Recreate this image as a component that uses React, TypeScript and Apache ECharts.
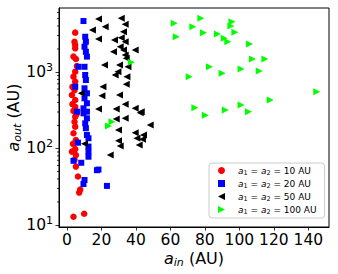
import React, { useEffect, useRef } from 'react';
import * as echarts from 'echarts';

// a1 = a2 = 10 AU  (red circles)
const RED_IN = [4.8, 4.4, 4.8, 4.8, 3.8, 5.2, 5.8, 4.8, 3.8, 4.8, 3.2, 4.4, 2.9, 4.8, 3.2, 4.8, 3.8, 5.5, 4.8, 4.4, 4.8, 3.8, 5.2, 3.5, 4.8, 2.9, 5.2, 4.4, 5.2, 6.4, 7.7, 7.1, 3.8, 10.0];
const RED_OUT = [3270, 2490, 2250, 2040, 1590, 1480, 1200, 1010, 870, 750, 640, 580, 500, 430, 380, 350, 310, 280, 260, 224, 193, 158, 129, 115, 98, 91, 82, 71, 58, 43, 29, 26.5, 12.8, 14.0];

// a1 = a2 = 20 AU  (blue squares)
const BLUE_IN = [9.6, 10.6, 11.0, 10.2, 11.0, 11.6, 6.7, 10.2, 10.6, 11.0, 4.8, 10.2, 11.6, 10.2, 11.6, 9.6, 5.8, 11.6, 9.6, 11.6, 10.6, 11.0, 11.6, 12.5, 6.4, 12.5, 12.5, 12.5, 3.8, 8.3, 17.4, 18.3, 10.2, 9.6, 23.2];
const BLUE_OUT = [4640, 2890, 2490, 2140, 1840, 1590, 1170, 1170, 914, 785, 643, 612, 527, 453, 390, 335, 303, 303, 288, 248, 213, 184, 150, 136, 119, 106, 91, 78, 69, 65, 52, 53, 38.7, 34.3, 32.4];

// a1 = a2 = 50 AU  (black left triangles)
const BLACK_IN = [18.3, 31.5, 14.8, 22.2, 33.8, 32.8, 18.3, 27.6, 31.5, 33.8, 30.9, 27.0, 32.8, 39.6, 33.8, 34.4, 21.8, 30.5, 35.4, 28.0, 29.6, 34.8, 34.4, 20.9, 8.3, 20.3, 30.5, 18.3, 28.6, 33.8, 39.6, 43.1, 28.6, 33.8, 42.5, 48.3, 29.9, 39.6, 44.4, 40.6, 43.8, 29.9, 30.9, 41.9, 10.2, 25.1];
const BLACK_OUT = [4930, 5030, 3540, 3910, 4200, 3370, 2700, 2620, 2810, 2490, 2140, 1840, 1940, 1940, 1670, 1510, 1235, 1235, 1170, 914, 1010, 868, 690, 643, 527, 490, 500, 328, 328, 378, 335, 303, 243, 248, 294, 203, 175, 161, 150, 136, 132, 126, 108, 111, 115, 82];

// a1 = a2 = 100 AU  (green right triangles)
const GREEN_IN = [62.2, 77.7, 73.0, 63.4, 79.2, 87.3, 91.2, 93.3, 95.7, 95.1, 97.4, 105.9, 107.6, 114.8, 82.7, 70.9, 90.0, 101.0, 111.5, 144.9, 117.9, 74.2, 80.3, 91.9, 101.0, 105.3, 37.3, 26.1, 24.1];
const GREEN_OUT = [4330, 5030, 3910, 2890, 3270, 3140, 2760, 2490, 4550, 3990, 3300, 2320, 1480, 1480, 1170, 868, 962, 1094, 1031, 552, 431, 341, 272, 318, 370, 303, 1340, 224, 197];

const SEPARATIONS = [10, 20, 50, 100];
const X_TICKS = [0, 20, 40, 60, 80, 100, 120, 140];
const Y_MAJOR = [10, 100, 1000];
const Y_MINOR = [20, 30, 40, 50, 60, 70, 80, 90, 200, 300, 400, 500, 600, 700, 800, 900, 2000, 3000, 4000, 5000, 6000];
const X_MIN = -4.6;
const X_MAX = 152;
const Y_MIN = 9.4;
const Y_MAX = 6870;

const FONT = 'DejaVu Sans';

function pairs(a: number[], b: number[]) {
  return a.map((v, i) => [v, b[i]]);
}

const LEFT_TRI = 'path://M0,5L10,0L10,10Z';
const RIGHT_TRI = 'path://M10,5L0,0L0,10Z';

export default function App() {
  const ref = useRef<HTMLDivElement>(null);
  useEffect(() => {
    if (!ref.current) return;
    const chart = echarts.init(ref.current, null, { renderer: 'svg' });
    const names = SEPARATIONS.map((s) => `a1 = a2 = ${s} AU`);
    const styles = [
      { color: '#ff0000', symbol: 'circle', size: 6.5, rotate: 0, icon: 'circle' },
      { color: '#0000ff', symbol: 'rect', size: 6, rotate: 0, icon: 'rect' },
      { color: '#000000', symbol: 'triangle', size: 7, rotate: 90, icon: LEFT_TRI },
      { color: '#00ff00', symbol: 'triangle', size: 7, rotate: -90, icon: RIGHT_TRI },
    ];
    const datasets = [
      pairs(RED_IN, RED_OUT),
      pairs(BLUE_IN, BLUE_OUT),
      pairs(BLACK_IN, BLACK_OUT),
      pairs(GREEN_IN, GREEN_OUT),
    ];
    const series: any[] = datasets.map((d, i) => ({
      type: 'scatter',
      name: names[i],
      data: d,
      symbol: styles[i].symbol,
      symbolSize: styles[i].size,
      symbolRotate: styles[i].rotate,
      itemStyle: { color: styles[i].color, opacity: 1 },
      emphasis: { disabled: true },
    }));
    series.push({
      type: 'custom',
      silent: true,
      clip: false,
      z: 10,
      data: Y_MINOR.map((v) => [X_MIN, v]),
      renderItem: (params: any, api: any) => {
        const p = api.coord([api.value(0), api.value(1)]);
        return {
          type: 'line',
          shape: { x1: p[0] - 2, y1: p[1], x2: p[0], y2: p[1] },
          style: { stroke: '#000', lineWidth: 0.8 },
        };
      },
    });

    const labelRich = {
      a: { fontFamily: FONT, fontSize: 16, fontStyle: 'italic', lineHeight: 20, color: '#000' },
      s: { fontFamily: FONT, fontSize: 11, fontStyle: 'italic', lineHeight: 12, verticalAlign: 'bottom', color: '#000' },
      n: { fontFamily: FONT, fontSize: 16, lineHeight: 20, color: '#000' },
    };

    chart.setOption({
      animation: false,
      grid: {
        left: 59,
        right: 9,
        top: 8,
        bottom: 47,
        outerBoundsMode: 'none',
        containLabel: false,
        show: true,
        borderColor: '#000',
        borderWidth: 1,
        backgroundColor: 'transparent',
      },
      legend: {
        data: names.map((n, i) => ({ name: n, icon: styles[i].icon })),
        orient: 'vertical',
        left: 209,
        top: 163,
        padding: [3, 8, 3, 9],
        itemWidth: 7,
        itemHeight: 7,
        itemGap: 3,
        backgroundColor: 'rgba(255,255,255,0.8)',
        borderColor: '#cccccc',
        borderWidth: 1,
        borderRadius: 3,
        selectedMode: false,
        formatter: (name: string) => {
          const idx = names.indexOf(name);
          return `{i|a}{s|1}{n| = }{i|a}{s|2}{n| = ${SEPARATIONS[idx]} AU}`;
        },
        textStyle: {
          fontFamily: FONT,
          fontSize: 9,
          color: '#000',
          padding: [0, 0, 0, 8],
          rich: {
            i: { fontFamily: FONT, fontSize: 9, fontStyle: 'italic', lineHeight: 11, color: '#000' },
            s: { fontFamily: FONT, fontSize: 6.5, lineHeight: 7, verticalAlign: 'bottom', color: '#000' },
            n: { fontFamily: FONT, fontSize: 9, lineHeight: 11, color: '#000' },
          },
        },
      },
      xAxis: {
        type: 'value',
        min: X_MIN,
        max: X_MAX,
        name: '{a|a}{s|in}{n| (AU)}',
        nameLocation: 'middle',
        nameGap: 21,
        nameMoveOverlap: false,
        nameTextStyle: { rich: labelRich },
        axisLine: { show: true, onZero: false, lineStyle: { color: '#000', width: 1 } },
        axisTick: { show: true, customValues: X_TICKS, length: 3.5, lineStyle: { color: '#000', width: 0.8 } },
        axisLabel: {
          customValues: X_TICKS,
          margin: 5,
          fontFamily: FONT,
          fontSize: 15.5,
          color: '#000',
        },
        splitLine: { show: false },
      },
      yAxis: {
        type: 'log',
        logBase: 10,
        min: Y_MIN,
        max: Y_MAX,
        name: '{a|a}{s|out}{n| (AU)}',
        nameLocation: 'middle',
        nameGap: 36,
        nameMoveOverlap: false,
        nameTextStyle: { rich: labelRich },
        axisLine: { show: true, onZero: false, lineStyle: { color: '#000', width: 1 } },
        axisTick: { show: true, customValues: Y_MAJOR, length: 3.5, lineStyle: { color: '#000', width: 0.8 } },
        axisLabel: {
          customValues: Y_MAJOR,
          margin: 6,
          formatter: (v: number) => `{b|10}{e|${Math.round(Math.log10(v))}}`,
          rich: {
            b: { fontFamily: FONT, fontSize: 15.5, lineHeight: 20, color: '#000' },
            e: { fontFamily: FONT, fontSize: 11, lineHeight: 12, verticalAlign: 'top', color: '#000' },
          },
        },
        splitLine: { show: false },
      },
      series,
    });
    return () => chart.dispose();
  }, []);
  return (
    <div
      ref={ref}
      style={{ position: 'fixed', left: 0, top: 0, width: 338, height: 274, background: '#fff' }}
    />
  );
}
